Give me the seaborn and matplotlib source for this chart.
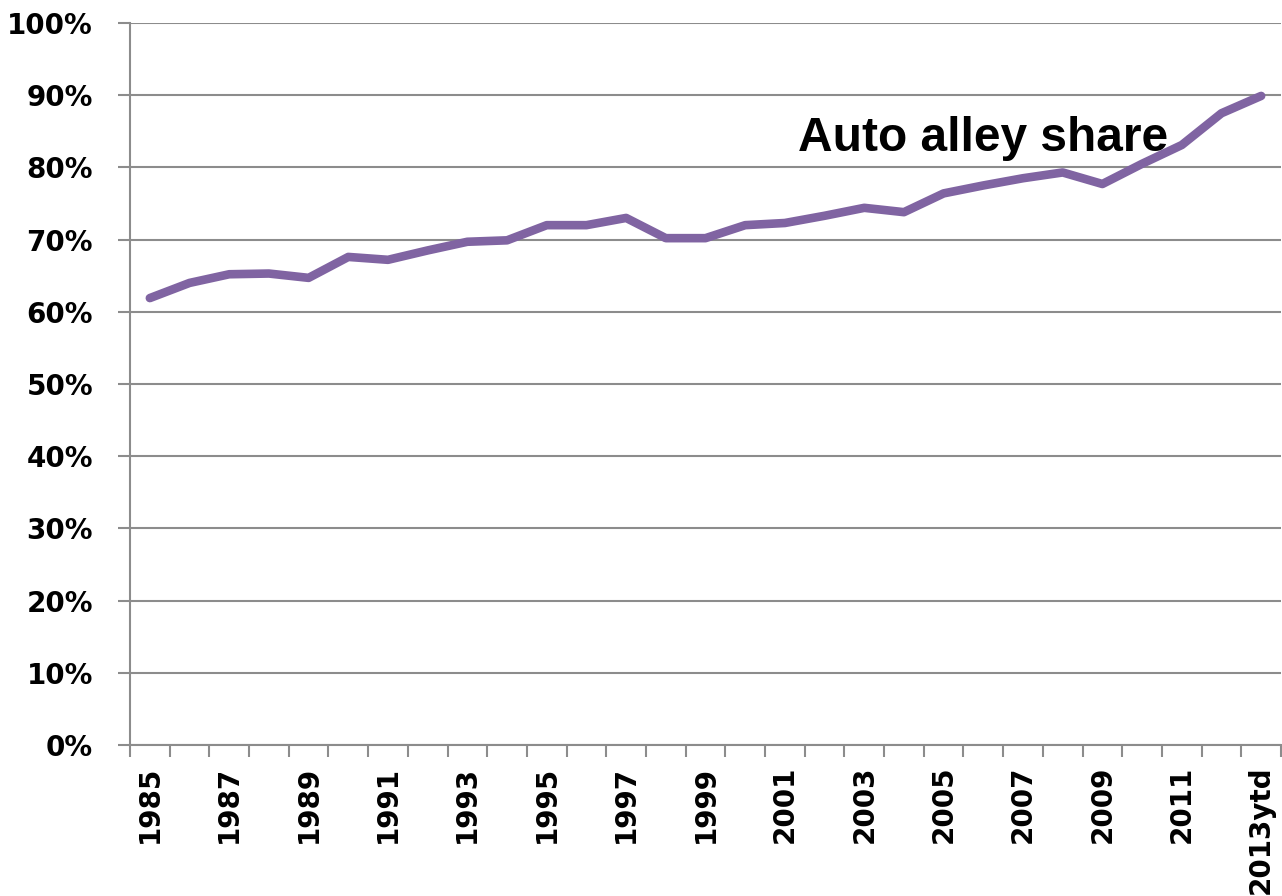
import matplotlib
matplotlib.use("Agg")
import matplotlib.pyplot as plt
import numpy as np
import pandas as pd
import seaborn as sns
from matplotlib.ticker import FixedLocator, PercentFormatter

# Datos
anios = ['1985', '1986', '1987', '1988', '1989', '1990', '1991', '1992', '1993', '1994',
         '1995', '1996', '1997', '1998', '1999', '2000', '2001', '2002', '2003', '2004',
         '2005', '2006', '2007', '2008', '2009', '2010', '2011', '2012', '2013ytd']
participacion = [61.9, 64.0, 65.2, 65.3, 64.7, 67.6, 67.2, 68.5, 69.7, 69.9,
                 72.0, 72.0, 73.0, 70.2, 70.2, 72.0, 72.3, 73.3, 74.4, 73.8,
                 76.4, 77.5, 78.5, 79.3, 77.7, 80.5, 83.1, 87.5, 89.9]
etiqueta_serie = 'Auto alley share'

GRIS = '#8c8c8c'
MORADO = '#8064a2'

df = pd.DataFrame({'anio': anios, 'share': participacion})
df['pos'] = np.arange(len(df))

sns.set_style('white')
plt.rcParams['font.family'] = ['DejaVu Sans']

fig = plt.figure(figsize=(12.82, 8.96), dpi=100)
ax = fig.add_axes([130 / 1282, 1 - 745 / 896, 1151 / 1282, 722 / 896])

sns.lineplot(data=df, x='pos', y='share', ax=ax, color=MORADO, linewidth=6.2,
             solid_capstyle='round', solid_joinstyle='round', zorder=3)

ax.set_xlim(-0.5, len(df) - 0.5)
ax.set_ylim(0, 100)
ax.set_yticks(np.arange(0, 101, 10))
ax.yaxis.set_major_formatter(PercentFormatter(decimals=0))

# etiquetas cada dos anios en el centro de la categoria, marcas en los bordes
ax.set_xticks(df['pos'][::2])
ax.set_xticklabels(df['anio'][::2], rotation=90)
ax.xaxis.set_minor_locator(FixedLocator(np.arange(-0.5, len(df), 1.0)))
ax.tick_params(axis='x', which='major', bottom=True, length=0, pad=15)
ax.tick_params(axis='x', which='minor', bottom=True, length=8.6, width=1.5,
               color=GRIS, direction='out')
ax.tick_params(axis='y', left=True, length=8.6, width=1.5, color=GRIS,
               direction='out', pad=18)

for lab in ax.get_xticklabels() + ax.get_yticklabels():
    lab.set_fontsize(20)
    lab.set_fontweight('bold')
    lab.set_color('black')

ax.grid(axis='y', color=GRIS, linewidth=1.5)
ax.set_axisbelow(True)
ax.set_xlabel('')
ax.set_ylabel('')

for lado in ['top', 'right']:
    ax.spines[lado].set_visible(False)
for lado in ['left', 'bottom']:
    ax.spines[lado].set_color(GRIS)
    ax.spines[lado].set_linewidth(1.5)

ax.text(0.58, 0.84, etiqueta_serie, transform=ax.transAxes, fontsize=34.5,
        fontweight='bold', family=['Liberation Sans', 'DejaVu Sans'],
        ha='left', va='center', color='black')

fig.savefig('out.png', dpi=100)
